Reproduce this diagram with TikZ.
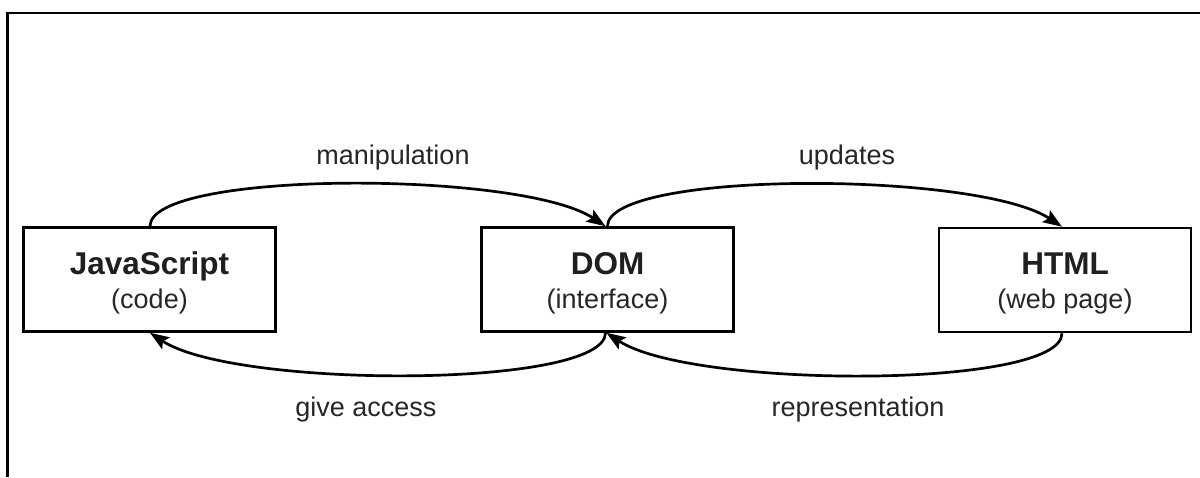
\documentclass[tikz,border=0pt]{standalone}
\usepackage{fontspec}
\setmainfont{Liberation Sans}
\usetikzlibrary{arrows.meta}
\begin{document}
\begin{tikzpicture}[x=1pt,y=-1pt,
  box/.style={draw=black, line width=2.6pt, minimum width=252pt, minimum height=104pt,
    inner sep=0pt, align=center},
  link/.style={line width=2.7pt, -{Stealth[length=19pt,width=14pt,inset=3.5pt]}},
  head/.style={anchor=base, font=\fontsize{31.5}{36}\selectfont\bfseries, text=black!88},
  sub/.style={anchor=base, font=\fontsize{27}{32}\selectfont, text=black!85},
  tag/.style={anchor=base, font=\fontsize{27}{32}\selectfont, text=black!85},
  frameline/.style={line width=2.8pt}]
  \useasboundingbox (0,0) rectangle (1200,477);
  % outer frame: top and left edges only
  \coordinate (fb) at (7.5,477);
  \coordinate (fc) at (7.5,13);
  \coordinate (fr) at (1200,13);
  \draw[frameline] (fb) -- (fc) -- (fr);

  % the three parts
  \node[box] (js) at (149.5,279.5) {};
  \node[box] (dom) at (607.5,279.5) {};
  \node[box] (html) at (1065,280) {};

  \node[head] (jst) at (149.5,274) {JavaScript};
  \node[sub] (jss) at (149.5,308) {(code)};
  \node[head] (domt) at (607.5,274) {DOM};
  \node[sub] (doms) at (607.5,308) {(interface)};
  \node[head] (htmlt) at (1065,274) {HTML};
  \node[sub] (htmls) at (1065,308) {(web page)};

  % connectors
  \draw[link] ([xshift=0.5pt]js.north) .. controls +(0,-56) and +(-85,-56) .. ([xshift=-2pt]dom.north);
  \draw[link] (dom.north) .. controls +(0,-56) and +(-85,-56) .. ([xshift=-3pt]html.north);
  \draw[link] ([xshift=-3pt]html.south) .. controls +(0,56) and +(85,56) .. ([xshift=-1pt]dom.south);
  \draw[link] ([xshift=-2pt]dom.south) .. controls +(0,56) and +(85,56) .. ([xshift=0.5pt]js.south);

  % connector labels
  \node[tag] (l1) at (393,164) {manipulation};
  \node[tag] (l2) at (847,164) {updates};
  \node[tag] (l3) at (366,416) {give access};
  \node[tag] (l4) at (858,416) {representation};
\end{tikzpicture}
\end{document}
